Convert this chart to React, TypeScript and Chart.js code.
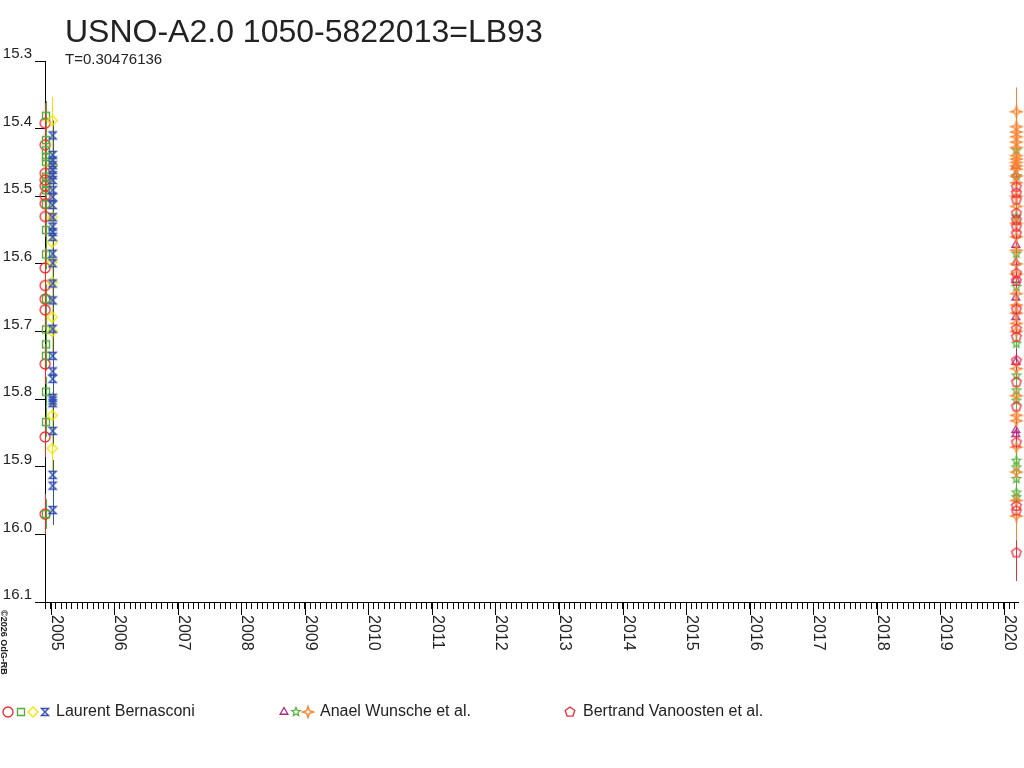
import React, { useEffect, useRef } from 'react';
import { Chart, registerables } from 'chart.js';
Chart.register(...registerables);

const TITLE = 'USNO-A2.0 1050-5822013=LB93';
const SUBTITLE = 'T=0.30476136';
const COPYRIGHT = '©2026 OdG-RB';

const Y_MIN = 15.3;
const Y_MAX = 16.1;
const Y_TICKS = [15.3, 15.4, 15.5, 15.6, 15.7, 15.8, 15.9, 16.0, 16.1];
const X_MIN = 2004.9105;
const X_MAX = 2020.2246;
const YEAR_LABELS = [2005, 2006, 2007, 2008, 2009, 2010, 2011, 2012, 2013, 2014, 2015, 2016, 2017, 2018, 2019, 2020];

// observation dates (decimal years)
const LB_CIRCLE_DATE = 2004.913;
const LB_SQUARE_DATE = 2004.926;
const LB_DIAMOND_DATE = 2005.025;
const LB_HOURGLASS_DATE = 2005.031;
const AW_TRIANGLE_DATE = 2020.19;
const AW_STAR_DATE = 2020.2;
const AW_SPARK_DATE = 2020.2;
const BV_PENTAGON_DATE = 2020.2;

// magnitudes
const LB_CIRCLE_MAG = [15.392, 15.424, 15.466, 15.476, 15.485, 15.499, 15.511, 15.53, 15.606, 15.632, 15.652, 15.668, 15.748, 15.856, 15.97];
const LB_SQUARE_MAG = [15.381, 15.417, 15.432, 15.442, 15.449, 15.471, 15.482, 15.491, 15.512, 15.55, 15.586, 15.652, 15.697, 15.719, 15.736, 15.789, 15.834, 15.97];
const LB_DIAMOND_MAG = [15.388, 15.454, 15.531, 15.568, 15.597, 15.627, 15.679, 15.7, 15.824, 15.873];
const LB_HOURGLASS_MAG = [15.41, 15.439, 15.447, 15.454, 15.461, 15.469, 15.476, 15.491, 15.501, 15.513, 15.531, 15.545, 15.553, 15.56, 15.585, 15.599, 15.629, 15.654, 15.696, 15.736, 15.759, 15.77, 15.798, 15.802, 15.806, 15.847, 15.912, 15.928, 15.964];
const AW_TRIANGLE_MAG = [15.455, 15.468, 15.572, 15.598, 15.624, 15.65, 15.679, 15.745, 15.846, 15.852];
const AW_STAR_MAG = [15.432, 15.47, 15.53, 15.585, 15.634, 15.718, 15.765, 15.787, 15.802, 15.891, 15.901, 15.918, 15.938, 15.945];
const AW_SPARK_MAG = [15.375, 15.397, 15.405, 15.412, 15.42, 15.428, 15.44, 15.445, 15.45, 15.455, 15.46, 15.47, 15.48, 15.5, 15.515, 15.54, 15.56, 15.58, 15.6, 15.615, 15.644, 15.661, 15.673, 15.688, 15.7, 15.755, 15.795, 15.824, 15.832, 15.871, 15.908, 15.95, 15.973];
const BV_PENTAGON_MAG = [15.486, 15.495, 15.505, 15.525, 15.535, 15.545, 15.555, 15.614, 15.625, 15.667, 15.696, 15.708, 15.743, 15.775, 15.811, 15.864, 15.958, 15.965, 16.027];

// uncertainties (mag)
const LB_CIRCLE_ERR = 0.03;
const LB_SQUARE_ERR = 0.022;
const LB_DIAMOND_ERR = 0.035;
const LB_HOURGLASS_ERR = 0.022;
const AW_TRIANGLE_ERR = 0.02;
const AW_STAR_ERR = 0.02;
const AW_SPARK_ERR = 0.036;
const BV_PENTAGON_ERR = 0.042;

const C_RED = '#ee2a2a';
const C_GREEN = '#52aa38';
const C_YELLOW = '#f2e400';
const C_BLUE = '#3350b2';
const C_MAGENTA = '#b0287f';
const C_GREEN2 = '#5cb440';
const C_ORANGE = '#f7842f';
const C_RED2 = '#ee2c3c';

const FONT = '"Liberation Sans", Arial, sans-serif';

function makeMarker(shape: string, color: string, r: number, lw: number): HTMLCanvasElement {
  const s = 2 * Math.ceil(r) + 4;
  const c = document.createElement('canvas');
  c.width = s;
  c.height = s;
  const g = c.getContext('2d')!;
  g.strokeStyle = color;
  g.lineWidth = lw;
  const cx = s / 2;
  const cy = s / 2;
  g.beginPath();
  const poly = (n: number, inner: number, rot: number) => {
    const pts = inner > 0 ? n * 2 : n;
    for (let i = 0; i < pts; i++) {
      const a = rot + (i * 2 * Math.PI) / pts;
      const rr = inner > 0 && i % 2 === 1 ? r * inner : r;
      const px = cx + rr * Math.cos(a);
      const py = cy + rr * Math.sin(a);
      if (i === 0) g.moveTo(px, py);
      else g.lineTo(px, py);
    }
    g.closePath();
  };
  switch (shape) {
    case 'circle':
      g.arc(cx, cy, r, 0, Math.PI * 2);
      break;
    case 'square':
      g.rect(cx - r, cy - r, 2 * r, 2 * r);
      break;
    case 'diamond':
      poly(4, 0, -Math.PI / 2);
      break;
    case 'hourglass':
      g.moveTo(cx - r, cy - r);
      g.lineTo(cx + r, cy - r);
      g.lineTo(cx - r, cy + r);
      g.lineTo(cx + r, cy + r);
      g.closePath();
      break;
    case 'triangle':
      poly(3, 0, -Math.PI / 2);
      break;
    case 'star5':
      poly(5, 0.45, -Math.PI / 2);
      break;
    case 'star4':
      poly(4, 0.35, -Math.PI / 2);
      break;
    case 'pentagon':
      poly(5, 0, -Math.PI / 2);
      break;
  }
  g.stroke();
  return c;
}

export default function App() {
  const ref = useRef<HTMLCanvasElement | null>(null);

  useEffect(() => {
    if (!ref.current) return;
    const mk = {
      circle: makeMarker('circle', C_RED, 5, 1.3),
      square: makeMarker('square', C_GREEN, 3.5, 1.3),
      diamond: makeMarker('diamond', C_YELLOW, 5, 1.4),
      hourglass: makeMarker('hourglass', C_BLUE, 3.5, 1.4),
      triangle: makeMarker('triangle', C_MAGENTA, 4.5, 1.3),
      star5: makeMarker('star5', C_GREEN2, 4.5, 1.3),
      star4: makeMarker('star4', C_ORANGE, 5.5, 1.4),
      pentagon: makeMarker('pentagon', C_RED2, 5, 1.3),
    };

    const series = [
      { date: LB_HOURGLASS_DATE, mags: LB_HOURGLASS_MAG, err: LB_HOURGLASS_ERR, color: C_BLUE, marker: mk.hourglass },
      { date: LB_DIAMOND_DATE, mags: LB_DIAMOND_MAG, err: LB_DIAMOND_ERR, color: C_YELLOW, marker: mk.diamond },
      { date: LB_SQUARE_DATE, mags: LB_SQUARE_MAG, err: LB_SQUARE_ERR, color: C_GREEN, marker: mk.square },
      { date: LB_CIRCLE_DATE, mags: LB_CIRCLE_MAG, err: LB_CIRCLE_ERR, color: C_RED, marker: mk.circle },
      { date: BV_PENTAGON_DATE, mags: BV_PENTAGON_MAG, err: BV_PENTAGON_ERR, color: C_RED2, marker: mk.pentagon },
      { date: AW_SPARK_DATE, mags: AW_SPARK_MAG, err: AW_SPARK_ERR, color: C_ORANGE, marker: mk.star4 },
      { date: AW_STAR_DATE, mags: AW_STAR_MAG, err: AW_STAR_ERR, color: C_GREEN2, marker: mk.star5 },
      { date: AW_TRIANGLE_DATE, mags: AW_TRIANGLE_MAG, err: AW_TRIANGLE_ERR, color: C_MAGENTA, marker: mk.triangle },
    ];

    const datasets = series.map((s) => ({
      data: s.mags.map((m) => ({ x: s.date, y: m })),
      err: s.err,
      errColor: s.color,
      pointStyle: s.marker,
      pointRadius: 5,
      borderColor: s.color,
      backgroundColor: 'transparent',
      showLine: false,
      clip: false as any,
    }));

    const legendGroups = [
      { markers: [mk.circle, mk.square, mk.diamond, mk.hourglass], xs: [8, 21, 33, 45], textX: 56, label: 'Laurent Bernasconi' },
      { markers: [mk.triangle, mk.star5, mk.star4], xs: [284, 296, 308], textX: 320, label: 'Anael Wunsche et al.' },
      { markers: [mk.pentagon], xs: [570], textX: 583, label: 'Bertrand Vanoosten et al.' },
    ];

    const decor = {
      id: 'decor',
      beforeDatasetsDraw(chart: any) {
        const ctx = chart.ctx;
        const ys = chart.scales.y;
        ctx.save();
        ctx.lineWidth = 1;
        chart.data.datasets.forEach((ds: any, i: number) => {
          const meta = chart.getDatasetMeta(i);
          ctx.strokeStyle = ds.errColor;
          ctx.beginPath();
          meta.data.forEach((el: any, j: number) => {
            const v = ds.data[j].y;
            const x = Math.round(el.x) + 0.5;
            ctx.moveTo(x, ys.getPixelForValue(v - ds.err));
            ctx.lineTo(x, ys.getPixelForValue(v + ds.err));
          });
          ctx.stroke();
        });
        ctx.restore();
      },
      afterDraw(chart: any) {
        const ctx = chart.ctx;
        const xs = chart.scales.x;
        const bottom = chart.chartArea.bottom;
        ctx.save();
        // year ticks + rotated labels
        ctx.strokeStyle = '#000';
        ctx.lineWidth = 1;
        ctx.fillStyle = '#222';
        ctx.font = `16px ${FONT}`;
        YEAR_LABELS.forEach((yr) => {
          const px = Math.round(xs.getPixelForValue(yr)) + 0.5;
          ctx.beginPath();
          ctx.moveTo(px, bottom);
          ctx.lineTo(px, bottom + 13);
          ctx.stroke();
          ctx.save();
          ctx.translate(px + 0.5, bottom + 13);
          ctx.rotate(Math.PI / 2);
          ctx.textAlign = 'left';
          ctx.textBaseline = 'alphabetic';
          ctx.fillText(String(yr), 0, 0);
          ctx.restore();
        });
        // copyright
        ctx.save();
        ctx.font = `bold 9px ${FONT}`;
        ctx.translate(1, 610);
        ctx.rotate(Math.PI / 2);
        ctx.textAlign = 'left';
        ctx.textBaseline = 'alphabetic';
        ctx.fillText(COPYRIGHT, 0, 0);
        ctx.restore();
        // title
        ctx.textAlign = 'left';
        ctx.textBaseline = 'alphabetic';
        ctx.font = `32px ${FONT}`;
        ctx.fillText(TITLE, 65, 42);
        ctx.font = `15px ${FONT}`;
        ctx.fillText(SUBTITLE, 65, 64);
        // legend
        const ly = 712;
        ctx.font = `16px ${FONT}`;
        ctx.textBaseline = 'middle';
        legendGroups.forEach((g) => {
          g.markers.forEach((m, k) => {
            ctx.drawImage(m, Math.round(g.xs[k] - m.width / 2), Math.round(ly - m.height / 2));
          });
          ctx.fillText(g.label, g.textX, ly);
        });
        ctx.restore();
      },
    };

    const chart = new Chart(ref.current, {
      type: 'scatter',
      data: { datasets: datasets as any },
      plugins: [decor as any],
      options: {
        animation: false,
        responsive: true,
        maintainAspectRatio: false,
        events: [],
        layout: { padding: { top: 61, right: 3, left: 0, bottom: 0 } },
        plugins: { legend: { display: false }, tooltip: { enabled: false }, title: { display: false } },
        scales: {
          x: {
            type: 'linear',
            min: X_MIN,
            max: X_MAX,
            afterBuildTicks: (scale: any) => {
              const t: any[] = [];
              for (let yr = 2004; yr <= 2020; yr++) {
                for (let m = 0; m < 12; m++) {
                  const v = yr + m / 12;
                  if (v >= X_MIN && v <= X_MAX) t.push({ value: v });
                }
              }
              scale.ticks = t;
            },
            afterFit: (scale: any) => {
              scale.height = 166;
            },
            ticks: { display: false },
            grid: { display: true, drawOnChartArea: false, drawTicks: true, tickLength: 7, color: '#000', lineWidth: 1 },
            border: { display: true, color: '#000', width: 1 },
          },
          y: {
            type: 'linear',
            reverse: true,
            min: Y_MIN,
            max: Y_MAX,
            afterBuildTicks: (scale: any) => {
              scale.ticks = Y_TICKS.map((v) => ({ value: v }));
            },
            afterFit: (scale: any) => {
              scale.width = 45;
            },
            ticks: {
              color: '#222',
              font: { family: FONT, size: 15 },
              padding: 3,
              labelOffset: -7,
              callback: (v: any) => Number(v).toFixed(1),
            },
            grid: { display: true, drawOnChartArea: false, drawTicks: true, tickLength: 10, color: '#000', lineWidth: 1 },
            border: { display: true, color: '#000', width: 1 },
          },
        },
      },
    });
    return () => chart.destroy();
  }, []);

  return (
    <div style={{ position: 'fixed', left: 0, top: 0, width: 1024, height: 768, background: '#fff' }}>
      <canvas ref={ref} />
    </div>
  );
}
